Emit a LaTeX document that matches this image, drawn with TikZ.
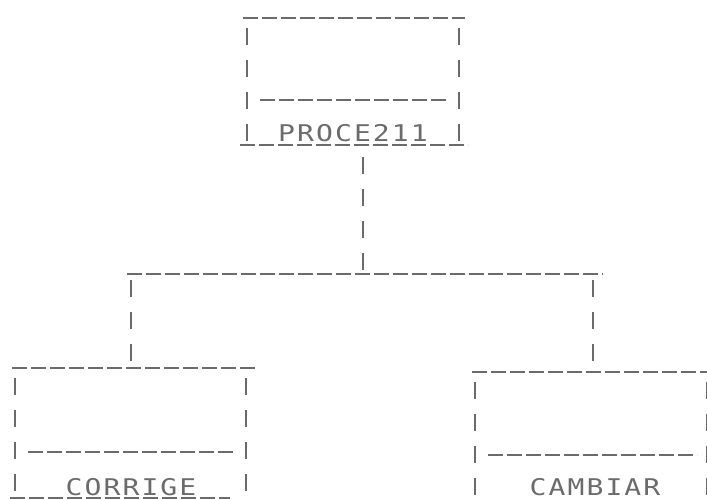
\documentclass[tikz,border=0pt]{standalone}
\usepackage{fontspec}
\newfontfamily\dotfont[FakeStretch=1.22,LetterSpace=9]{DejaVu Sans Mono}
\usetikzlibrary{calc}
\definecolor{ink}{gray}{0.42}
\begin{document}
\begin{tikzpicture}[x=1pt,y=-1pt,
  area/.style={rectangle, inner sep=0pt, outer sep=0pt, draw=none},
  hdash/.style={draw=ink, line width=1.3pt, dash pattern=on 15pt off 4pt},
  vdash/.style={draw=ink, line width=1.4pt, dash pattern=on 17pt off 15pt},
  lbl/.style={font=\dotfont\fontsize{23}{23}\selectfont, text=ink, inner sep=0pt, text depth=0pt, anchor=base}]
\useasboundingbox (0,0) rectangle (707,500);

% top box
\node[area, minimum width=212pt, minimum height=127pt] (P) at (353,81.5) {};
\draw[hdash] ($(P.north west)+(-4,0)$) -- ($(P.north east)+(6,0)$);
\draw[vdash] ($(P.north west)+(0,10)$) -- (P.south west);
\draw[vdash] ($(P.north east)+(0,10)$) -- (P.south east);
\draw[hdash] ($(P.north west)+(13,82)$) -- ($(P.north east)+(-11,82)$);
\draw[hdash] ($(P.south west)+(-7,0)$) -- ($(P.south east)+(9,0)$);
\node[lbl] (PL) at (353,142) {PROCE211};

% left box
\node[area, minimum width=231pt, minimum height=130pt] (C) at (130.5,433) {};
\draw[hdash] ($(C.north west)+(-3,0)$) -- ($(C.north east)+(9,0)$);
\draw[vdash] ($(C.north west)+(0,10)$) -- (C.south west);
\draw[vdash] ($(C.north east)+(0,10)$) -- (C.south east);
\draw[hdash] ($(C.north west)+(13,84)$) -- ($(C.north east)+(-13,84)$);
\draw[hdash] ($(C.south west)+(-5,0)$) -- ($(C.south east)+(-16,0)$);
\node[lbl] (CL) at (131,495) {CORRIGE};

% right box
\node[area, minimum width=232pt, minimum height=130pt] (R) at (591,437) {};
\draw[hdash] ($(R.north west)+(-3,0)$) -- ($(R.north east)+(3,0)$);
\draw[vdash] ($(R.north west)+(0,10)$) -- (R.south west);
\draw[vdash] ($(R.north east)+(0,10)$) -- (R.south east);
\draw[hdash] ($(R.north west)+(13,83)$) -- ($(R.north east)+(-10,83)$);
\draw[hdash] ($(R.south west)+(-5,0)$) -- ($(R.south east)+(0,0)$);
\node[lbl] (RL) at (595,495) {CAMBIAR};

% connectors
\coordinate (J) at (363,274);
\coordinate (BL) at (127,274);
\coordinate (BR) at (603,274);
\coordinate (DL) at (131,274);
\coordinate (DR) at (593,274);
\draw[vdash] ($(P.south -| J)+(0,12)$) -- (J);
\draw[hdash] (BL) -- (BR);
\draw[vdash] ($(DL)+(0,6)$) -- (DL |- C.north);
\draw[vdash] ($(DR)+(0,6)$) -- (DR |- R.north);
\end{tikzpicture}
\end{document}
